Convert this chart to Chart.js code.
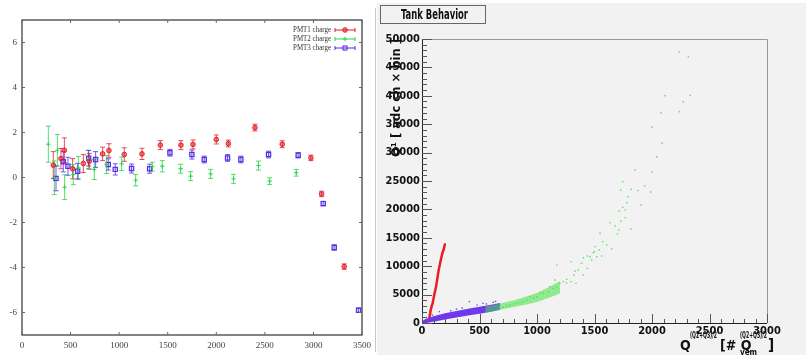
<!DOCTYPE html>
<html>
<head>
<meta charset="UTF-8">
<title>PMT charge / Tank Behavior</title>
<script src="https://cdn.jsdelivr.net/npm/chart.js"></script>
<style>
  body { margin: 0; background: #fff; width: 806px; height: 358px; position: relative; overflow: hidden; }
  #left { position: absolute; left: 0; top: 0; }
  #sep { position: absolute; left: 375px; top: 8px; width: 1px; height: 344px; background: #c8c8c8; }
  #rightWrap { position: absolute; left: 377px; top: 3px; width: 429px; height: 352px; background: #f2f2f2; }
  #right { position: absolute; left: 377px; top: 0; }
</style>
</head>
<body>
<canvas id="left" width="376" height="358"></canvas>
<div id="sep"></div>
<div id="rightWrap"></div>
<canvas id="right" width="429" height="358"></canvas>
<script>
// ---- left panel: PMT charges with error bars ----
const pmt1X = [322, 401, 436, 521, 631, 693, 830, 895, 1053, 1235, 1424, 1636, 1760, 2000, 2124, 2398, 2679, 2974, 3084, 3317];
const pmt1Y = [0.55, 0.84, 1.21, 0.39, 0.62, 0.72, 1.05, 1.2, 1.02, 1.05, 1.44, 1.44, 1.47, 1.69, 1.51, 2.22, 1.48, 0.87, -0.73, -3.96];
const pmt1Err = [0.6, 0.45, 0.55, 0.45, 0.4, 0.35, 0.3, 0.3, 0.3, 0.25, 0.2, 0.2, 0.2, 0.2, 0.15, 0.15, 0.15, 0.12, 0.12, 0.12];

const pmt2X = [271, 333, 364, 439, 528, 580, 683, 744, 871, 1026, 1170, 1341, 1444, 1633, 1736, 1942, 2178, 2435, 2549, 2823];
const pmt2Y = [1.48, -0.01, 1.21, -0.43, 0.13, 0.43, 0.8, 0.36, 0.58, 0.61, -0.12, 0.48, 0.5, 0.39, 0.06, 0.16, -0.06, 0.53, -0.16, 0.21];
const pmt2Err = [0.8, 0.75, 0.7, 0.55, 0.45, 0.5, 0.4, 0.45, 0.4, 0.3, 0.25, 0.2, 0.25, 0.2, 0.2, 0.2, 0.2, 0.2, 0.15, 0.15];

const pmt3X = [350, 425, 473, 573, 686, 758, 888, 960, 1128, 1314, 1523, 1749, 1876, 2116, 2253, 2538, 2843, 3101, 3214, 3465];
const pmt3Y = [-0.04, 0.7, 0.5, 0.28, 0.86, 0.8, 0.58, 0.36, 0.4, 0.39, 1.1, 1.02, 0.8, 0.87, 0.8, 1.02, 0.99, -1.16, -3.11, -5.9];
const pmt3Err = [0.55, 0.45, 0.4, 0.35, 0.35, 0.35, 0.25, 0.25, 0.2, 0.2, 0.15, 0.2, 0.15, 0.15, 0.15, 0.15, 0.12, 0.1, 0.12, 0.1];

const leftLabels = ['PMT1 charge', 'PMT2 charge', 'PMT3 charge'];

// ---- right panel: Tank Behavior ----
const redX = [20, 40, 58, 66, 75, 85, 93, 107, 122, 134, 145, 160, 177, 186, 200];
const redY = [100, 250, 450, 1100, 2200, 3000, 3500, 5000, 6400, 7900, 9300, 10800, 12300, 12800, 13900];

// dense clouds: lower / upper edge of the band
const blueBandX = [0, 30, 100, 200, 300, 400, 500, 600, 680];
const blueLow = [0, 0, 200, 600, 950, 1300, 1650, 2000, 2350];
const blueHigh = [300, 700, 1200, 1700, 2100, 2500, 2850, 3200, 3500];
const blueX = [412, 150, 250, 350, 560, 620, 480, 90, 300, 530, 640];
const blueY = [3760, 2000, 2150, 2650, 3350, 3650, 3150, 1400, 2450, 3450, 3800];

const greenBandX = [550, 600, 700, 800, 900, 1000, 1100, 1200];
const greenLow = [1800, 2000, 2400, 2800, 3200, 3700, 4400, 5200];
const greenHigh = [2900, 3100, 3500, 4000, 4600, 5300, 6300, 7400];
const greenX = [2238, 2316, 2113, 2333, 2272, 2078, 2238, 2000, 2087, 2041, 1852, 2000, 1745, 1728, 1820, 1878, 1936, 1988,
  1794, 1780, 1904, 1716, 1768, 1745, 1768, 1728, 1635, 1681, 1817, 1699, 1548, 1710, 1504, 1571, 1606, 1649, 1490, 1542,
  1403, 1461, 1519, 1562, 1499, 1438, 1475, 1388, 1296, 1171, 1438, 1359, 1322, 1403, 1296, 1339, 1258, 1229, 1200, 1157,
  1113, 1142, 1099, 1055, 1026, 997, 968, 939, 910, 881, 852, 823, 794, 765, 736, 707, 678, 1330, 1257, 1170];
const greenY = [47710, 46890, 40020, 40080, 38960, 37030, 37210, 34450, 31640, 29280, 26940, 26580, 24880, 23420, 23540, 23300, 24120, 23060,
  22240, 21180, 20770, 19720, 19890, 20370, 18540, 17900, 17660, 17080, 16550, 15670, 15790, 16370, 13440, 14310, 13730, 13030, 12380, 12850,
  11500, 11670, 11670, 11800, 12560, 11800, 11090, 10510, 10800, 10210, 9620, 9330, 8450, 8450, 7280, 6980, 7690, 7280, 6980, 7570,
  6400, 6100, 5520, 5220, 5340, 4640, 4340, 4640, 4050, 3760, 3580, 3460, 3350, 3170, 2990, 2760, 2760, 9120, 7060, 6350];

const xyPairs = (xs, ys) => xs.map((v, i) => ({x: v, y: ys[i]}));

const red = 'rgb(228,30,40)';
const green = 'rgb(40,215,70)';
const blue = 'rgb(85,45,230)';

// error bars + inward ticks + frame + legend for the left plot
const leftDecor = {
  id: 'leftDecor',
  beforeDatasetsDraw(chart) {
    const {ctx, scales: {x, y}} = chart;
    chart.data.datasets.forEach(ds => {
      ctx.save();
      ctx.strokeStyle = ds.borderColor;
      ctx.globalAlpha = 0.8;
      ctx.lineWidth = 1;
      ds.data.forEach((p, i) => {
        const px = x.getPixelForValue(p.x);
        const y1 = y.getPixelForValue(p.y - ds.errs[i]);
        const y2 = y.getPixelForValue(p.y + ds.errs[i]);
        ctx.beginPath();
        ctx.moveTo(px, y1); ctx.lineTo(px, y2);
        ctx.moveTo(px - 2.5, y1); ctx.lineTo(px + 2.5, y1);
        ctx.moveTo(px - 2.5, y2); ctx.lineTo(px + 2.5, y2);
        ctx.stroke();
      });
      ctx.restore();
    });
  },
  afterDraw(chart) {
    const {ctx, chartArea: a, scales: {x, y}} = chart;
    ctx.save();
    ctx.strokeStyle = '#333';
    ctx.lineWidth = 1.2;
    ctx.strokeRect(a.left, a.top, a.right - a.left, a.bottom - a.top);
    ctx.lineWidth = 1;
    ctx.strokeStyle = '#666';
    ctx.beginPath();
    y.ticks.forEach(t => {
      if (t.value % 2 !== 0) return;
      const py = y.getPixelForValue(t.value);
      ctx.moveTo(a.left, py); ctx.lineTo(a.left + 3, py);
      ctx.moveTo(a.right, py); ctx.lineTo(a.right - 3, py);
    });
    x.ticks.forEach(t => {
      const px = x.getPixelForValue(t.value);
      ctx.moveTo(px, a.bottom); ctx.lineTo(px, a.bottom - 3);
      ctx.moveTo(px, a.top); ctx.lineTo(px, a.top + 3);
    });
    ctx.stroke();

    // legend
    ctx.font = '9px "Liberation Serif", serif';
    ctx.textAlign = 'right';
    ctx.textBaseline = 'middle';
    chart.data.datasets.forEach((ds, i) => {
      const ly = 30 + i * 9;
      ctx.fillStyle = '#333';
      ctx.fillText(ds.label, 331, ly, 38);
      ctx.strokeStyle = ds.borderColor;
      ctx.beginPath();
      ctx.moveTo(335, ly); ctx.lineTo(355, ly);
      ctx.moveTo(335, ly - 2); ctx.lineTo(335, ly + 2);
      ctx.moveTo(355, ly - 2); ctx.lineTo(355, ly + 2);
      ctx.stroke();
      ctx.fillStyle = ds.backgroundColor;
      Chart.helpers.drawPoint(ctx, {pointStyle: ds.pointStyle, radius: ds.pointRadius, borderWidth: 1, rotation: 0}, 345, ly);
    });
    ctx.restore();
  }
};

const serif = {family: '"Liberation Serif", "DejaVu Serif", serif', size: 9};

new Chart(document.getElementById('left'), {
  type: 'scatter',
  data: {
    datasets: [
      {label: leftLabels[0], data: xyPairs(pmt1X, pmt1Y), errs: pmt1Err, borderColor: red,
       backgroundColor: 'rgba(228,30,40,0.55)', pointStyle: 'circle', pointRadius: 2.3, borderWidth: 1},
      {label: leftLabels[1], data: xyPairs(pmt2X, pmt2Y), errs: pmt2Err, borderColor: green,
       backgroundColor: green, pointStyle: 'cross', pointRadius: 2.2, borderWidth: 1},
      {label: leftLabels[2], data: xyPairs(pmt3X, pmt3Y), errs: pmt3Err, borderColor: blue,
       backgroundColor: 'rgba(85,45,230,0.15)', pointStyle: 'rect', pointRadius: 3, borderWidth: 1.2}
    ]
  },
  options: {
    responsive: false,
    animation: false,
    layout: {padding: {left: 0, right: 14, top: 20, bottom: 0}},
    plugins: {legend: {display: false}, tooltip: {enabled: false}},
    scales: {
      x: {
        type: 'linear', min: 0, max: 3500,
        ticks: {stepSize: 500, font: serif, color: '#444', padding: 5, maxRotation: 0,
                callback: v => String(v)},
        grid: {display: false, drawTicks: false},
        border: {display: false},
        afterFit(s) { s.height = 23; }
      },
      y: {
        min: -7, max: 7,
        ticks: {stepSize: 1, font: serif, color: '#444', padding: 5,
                callback: v => (v % 2 === 0 ? String(v) : '')},
        grid: {display: false, drawTicks: false},
        border: {display: false},
        afterFit(s) { s.width = 22; }
      }
    }
  },
  plugins: [leftDecor]
});

// ---- right chart ----
const narrow = '"Liberation Sans Narrow", "DejaVu Sans Condensed", "Liberation Sans", sans-serif';

const rightDecor = {
  id: 'rightDecor',
  afterDraw(chart) {
    const {ctx, chartArea: a, scales: {x, y}} = chart;
    ctx.save();
    // frame
    ctx.strokeStyle = '#999';
    ctx.lineWidth = 1;
    ctx.beginPath();
    ctx.moveTo(a.left, a.top + 0.5); ctx.lineTo(a.right + 0.5, a.top + 0.5); ctx.lineTo(a.right + 0.5, a.bottom);
    ctx.stroke();
    ctx.strokeStyle = '#222';
    ctx.beginPath();
    ctx.moveTo(a.left + 0.5, a.top); ctx.lineTo(a.left + 0.5, a.bottom + 0.5); ctx.lineTo(a.right, a.bottom + 0.5);
    ctx.stroke();
    // inward ticks
    ctx.strokeStyle = '#555';
    ctx.beginPath();
    for (let v = 0; v <= 50000; v += 1000) {
      const py = Math.round(y.getPixelForValue(v)) + 0.5;
      const len = v % 5000 === 0 ? 10 : 5;
      ctx.moveTo(a.left, py); ctx.lineTo(a.left + len, py);
    }
    for (let v = 0; v <= 3000; v += 100) {
      const px = Math.round(x.getPixelForValue(v)) + 0.5;
      const len = v % 500 === 0 ? 9 : 4;
      ctx.moveTo(px, a.bottom); ctx.lineTo(px, a.bottom - len);
    }
    ctx.stroke();

    // title box
    ctx.fillStyle = '#f2f2f2';
    ctx.fillRect(3, 5, 105, 18);
    ctx.strokeStyle = '#666';
    ctx.strokeRect(3.5, 5.5, 105, 18);
    ctx.fillStyle = '#111';
    ctx.font = 'bold 14px ' + narrow;
    ctx.textAlign = 'left';
    ctx.textBaseline = 'middle';
    ctx.fillText('Tank Behavior', 24, 15, 67);

    // y title
    ctx.save();
    ctx.translate(20, 98);
    ctx.rotate(-Math.PI / 2);
    ctx.textAlign = 'center';
    ctx.font = 'bold 13px ' + narrow;
    ctx.fillText('Q\u00b9 [ adc ch \u00d7 bin ]', 0, 0, 118);
    ctx.restore();

    // x title
    ctx.textAlign = 'left';
    ctx.textBaseline = 'alphabetic';
    const bx = 303, by = 350;
    ctx.font = 'bold 14px ' + narrow;
    ctx.fillText('Q', bx, by);
    ctx.font = 'bold 8px ' + narrow;
    ctx.fillText('(Q2+Q3)/2', bx + 10, by - 12, 27);
    ctx.font = 'bold 14px ' + narrow;
    ctx.fillText('[# Q', bx + 40, by);
    ctx.font = 'bold 8px ' + narrow;
    ctx.fillText('(Q2+Q3)/2', bx + 60, by - 12, 27);
    ctx.fillText('vem', bx + 60, by + 5);
    ctx.font = 'bold 15px ' + narrow;
    ctx.fillText(']', bx + 88, by);
    ctx.restore();
  }
};

const rightTickFont = {family: narrow, size: 11, weight: 'bold'};

new Chart(document.getElementById('right'), {
  data: {
    datasets: [
      {type: 'line', data: xyPairs(greenBandX, greenLow), borderWidth: 0, pointRadius: 0, fill: false,
       backgroundColor: 'rgba(70,225,70,0.55)'},
      {type: 'line', data: xyPairs(greenBandX, greenHigh), borderWidth: 0, pointRadius: 0, fill: '-1',
       backgroundColor: 'rgba(70,225,70,0.55)'},
      {type: 'scatter', data: xyPairs(greenX, greenY), pointStyle: 'rect', pointRadius: 1,
       borderWidth: 0, backgroundColor: 'rgb(90,225,90)'},
      {type: 'line', data: xyPairs(blueBandX, blueLow), borderWidth: 0, pointRadius: 0, fill: false,
       backgroundColor: 'rgb(112,56,236)'},
      {type: 'line', data: xyPairs(blueBandX, blueHigh), borderWidth: 0, pointRadius: 0, fill: '-1',
       backgroundColor: 'rgb(112,56,236)'},
      {type: 'scatter', data: xyPairs(blueX, blueY), pointStyle: 'rect', pointRadius: 1,
       borderWidth: 0, backgroundColor: 'rgb(120,70,235)'},
      {type: 'line', data: xyPairs(redX, redY), borderColor: 'rgb(235,30,40)', borderWidth: 2.5,
       pointRadius: 1, pointBackgroundColor: 'rgb(235,30,40)', pointBorderWidth: 0, fill: false, tension: 0}
    ]
  },
  options: {
    responsive: false,
    animation: false,
    layout: {padding: {left: 0, right: 39, top: 39, bottom: 0}},
    plugins: {legend: {display: false}, tooltip: {enabled: false}},
    scales: {
      x: {
        type: 'linear', min: 0, max: 3000,
        ticks: {stepSize: 500, font: rightTickFont, color: '#111', padding: 2, maxRotation: 0,
                callback: v => String(v)},
        grid: {display: false, drawTicks: false},
        border: {display: false},
        afterFit(s) { s.height = 35; }
      },
      y: {
        type: 'linear', min: 0, max: 50000,
        ticks: {stepSize: 5000, font: rightTickFont, color: '#111', padding: 2,
                callback: v => String(v)},
        grid: {display: false, drawTicks: false},
        border: {display: false},
        afterFit(s) { s.width = 45; }
      }
    }
  },
  plugins: [rightDecor]
});
</script>
</body>
</html>
